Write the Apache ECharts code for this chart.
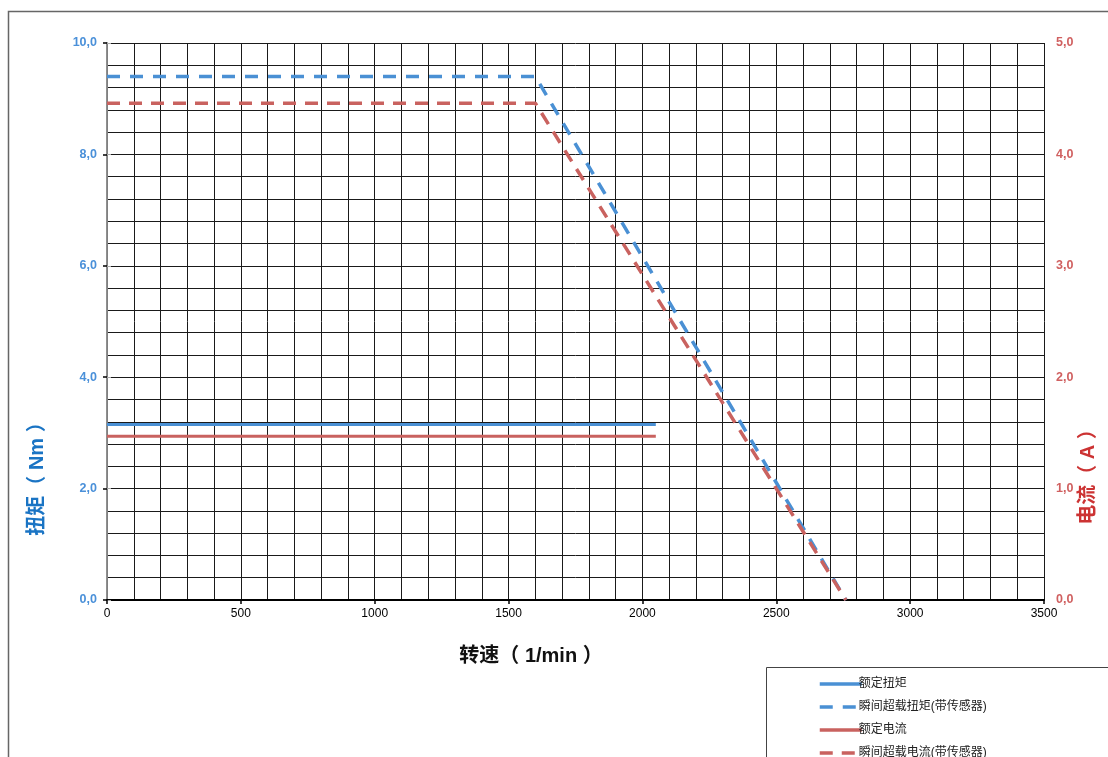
<!DOCTYPE html>
<html>
<head>
<meta charset="utf-8">
<script src="https://cdn.jsdelivr.net/npm/echarts@6/dist/echarts.min.js"></script>
<style>
html,body{margin:0;padding:0;background:#fff;}
#chart{width:1108px;height:757px;}
</style>
</head>
<body>
<div id="chart"></div>
<script>
// ---- data ----
const seriesNames = ['额定扭矩', '瞬间超载扭矩(带传感器)', '额定电流', '瞬间超载电流(带传感器)'];
const speedRated = [0, 2050];
const torqueRated = [3.15, 3.15];
const speedOverload = [0, 1600, 2760];
const torqueOverload = [9.4, 9.4, 0];
const currentRated = [1.47, 1.47];
const currentOverload = [4.46, 4.46, 0];
const xTitle = '转速（ 1/min ）';
const yLeftTitle = '扭矩（ Nm ）';
const yRightTitle = '电流（ A ）';

const pairs = (xs, ys) => xs.map((x, i) => [x, ys[i]]);
const comma = v => v.toFixed(1).replace('.', ',');

const BLUE = '#4a90d4';
const RED = '#c9625f';
const FONT = '"Liberation Sans", "Noto Sans CJK SC", sans-serif';

const chart = echarts.init(document.getElementById('chart'));
chart.setOption({
  backgroundColor: '#fff',
  animation: false,
  grid: { left: 107, top: 43, right: 64, bottom: 157, containLabel: false },
  xAxis: {
    type: 'value', min: 0, max: 3500, interval: 500,
    axisLine: { show: true, onZero: false, lineStyle: { color: '#000', width: 2 } },
    axisTick: { show: true, length: 4, lineStyle: { color: '#000', width: 1.5 } },
    axisLabel: { color: '#000', fontSize: 12, fontFamily: FONT, margin: 8, formatter: v => String(v) },
    splitLine: { show: true, lineStyle: { color: '#1a1a1a', width: 1 } },
    minorTick: { show: false, splitNumber: 5 },
    minorSplitLine: { show: true, lineStyle: { color: '#1a1a1a', width: 1 } }
  },
  yAxis: [
    {
      type: 'value', min: 0, max: 10, interval: 2, position: 'left',
      axisLine: { show: true, onZero: false, lineStyle: { color: '#000', width: 1.5 } },
      axisTick: { show: true, length: 4, lineStyle: { color: '#000', width: 1.5 } },
      axisLabel: { color: '#4a90d9', fontSize: 12.5, fontWeight: 'bold', fontFamily: FONT, margin: 10, formatter: comma },
      splitLine: { show: true, lineStyle: { color: '#1a1a1a', width: 1 } },
      minorTick: { show: false, splitNumber: 5 },
      minorSplitLine: { show: true, lineStyle: { color: '#1a1a1a', width: 1 } }
    },
    {
      type: 'value', min: 0, max: 5, interval: 1, position: 'right',
      axisLine: { show: true, lineStyle: { color: '#aaaaaa', width: 1.5 } },
      axisTick: { show: true, length: 4, lineStyle: { color: '#aaaaaa', width: 1 } },
      axisLabel: { color: '#d06060', fontSize: 12.5, fontWeight: 'bold', fontFamily: FONT, margin: 12, formatter: comma },
      splitLine: { show: false }
    }
  ],
  legend: {
    orient: 'vertical', left: 813, top: 673, height: 120, width: 250,
    itemWidth: 42, itemHeight: 14, itemGap: 11,
    itemStyle: { opacity: 0 },
    lineStyle: { width: 3.5 },
    textStyle: { color: '#222', fontSize: 12, fontFamily: FONT, padding: [0, 0, 0, -8] },
    data: seriesNames
  },
  series: [
    { name: seriesNames[0], type: 'line', yAxisIndex: 0, symbol: 'none', data: pairs(speedRated, torqueRated),
      lineStyle: { color: BLUE, width: 3 }, itemStyle: { color: BLUE } },
    { name: seriesNames[1], type: 'line', yAxisIndex: 0, symbol: 'none', data: pairs(speedOverload, torqueOverload),
      lineStyle: { color: BLUE, width: 3.5, type: [13, 10] }, itemStyle: { color: BLUE } },
    { name: seriesNames[2], type: 'line', yAxisIndex: 1, symbol: 'none', data: pairs(speedRated, currentRated),
      lineStyle: { color: RED, width: 3 }, itemStyle: { color: RED } },
    { name: seriesNames[3], type: 'line', yAxisIndex: 1, symbol: 'none', data: pairs(speedOverload, currentOverload),
      lineStyle: { color: RED, width: 3.5, type: [13, 9] }, itemStyle: { color: RED } }
  ],
  graphic: [
    { type: 'rect', z: -1, shape: { x: 8.5, y: 11.5, width: 1200, height: 800 }, style: { fill: 'none', stroke: '#666', lineWidth: 1.5 } },
    { type: 'rect', z: 0, shape: { x: 766.5, y: 667.5, width: 500, height: 200 }, style: { fill: '#fff', stroke: '#444', lineWidth: 1 } },
    { type: 'text', x: 531, y: 656, style: { text: xTitle, fill: '#111', font: 'bold 20px ' + FONT, textAlign: 'center', textVerticalAlign: 'middle' } },
    { type: 'text', x: 37, y: 474, rotation: Math.PI / 2, style: { text: yLeftTitle, fill: '#1a74c4', font: 'bold 20px ' + FONT, textAlign: 'center', textVerticalAlign: 'middle' } },
    { type: 'text', x: 1088, y: 472, rotation: Math.PI / 2, style: { text: yRightTitle, fill: '#cc3333', font: 'bold 20px ' + FONT, textAlign: 'center', textVerticalAlign: 'middle' } }
  ]
});
</script>
</body>
</html>
